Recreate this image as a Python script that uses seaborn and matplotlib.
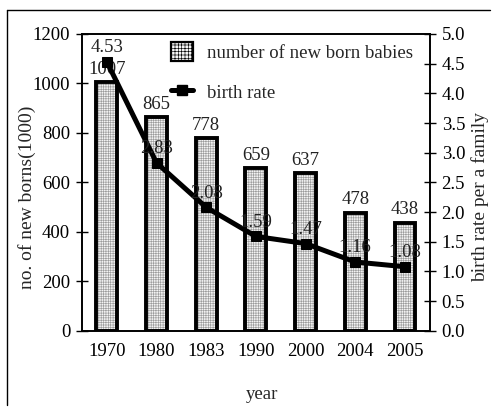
import numpy as np
import pandas as pd
import matplotlib
matplotlib.use("Agg")
import matplotlib.pyplot as plt
import seaborn as sns
from matplotlib.lines import Line2D
from matplotlib.patches import Patch

years = ["1970", "1980", "1983", "1990", "2000", "2004", "2005"]
newborns = [1007, 865, 778, 659, 637, 478, 438]
birth_rate = [4.53, 2.83, 2.08, 1.59, 1.47, 1.16, 1.08]
left_ticks = [0, 200, 400, 600, 800, 1000, 1200]
right_ticks = [0.0, 0.5, 1.0, 1.5, 2.0, 2.5, 3.0, 3.5, 4.0, 4.5, 5.0]

sns.set_theme(style="white")
plt.rcParams["font.family"] = ["Liberation Serif", "DejaVu Serif"]
plt.rcParams["hatch.linewidth"] = 0.45
plt.rcParams["axes.edgecolor"] = "black"
plt.rcParams["axes.linewidth"] = 1.2

FS = 13.5
FILL_HATCH = "+++++++"

df = pd.DataFrame({"year": years, "newborns": newborns, "rate": birth_rate})

fig = plt.figure(figsize=(4.94, 4.09), dpi=100)
ax = fig.add_axes([0.166, 0.191, 0.704, 0.726])

# fine dotted fill of the bars
sns.barplot(data=df, x="year", y="newborns", ax=ax, width=0.42,
            color="#f4f4f4", saturation=1, edgecolor="#9c9c9c", linewidth=0)
for p in ax.patches:
    p.set_hatch(FILL_HATCH)
# heavy black outline on top of the fill
sns.barplot(data=df, x="year", y="newborns", ax=ax, width=0.42,
            fill=False, edgecolor="black", linewidth=2.8)

ax.set_ylim(0, 1200)
ax.set_xlim(-0.5, len(years) - 0.5)
ax.set_yticks(left_ticks)
ax.set_yticklabels([str(t) for t in left_ticks])
ax.tick_params(axis="y", direction="inout", length=9, width=1, pad=4,
               labelsize=FS, colors="black", left=True)
ax.tick_params(axis="x", length=0, pad=9, labelsize=FS, colors="black")
for s in ax.spines.values():
    s.set_color("black")
    s.set_linewidth(1.2)

for i, v in enumerate(newborns):
    ax.annotate(str(v), (i, v), xytext=(0, 3), textcoords="offset points",
                ha="center", va="bottom", fontsize=FS, color="#222222")

ax.set_ylabel("no. of new borns(1000)", fontsize=FS + 0.5)
ax.yaxis.set_label_coords(-0.132, 0.45)
ax.set_xlabel("year", fontsize=FS)
ax.xaxis.set_label_coords(0.517, -0.185)

ax2 = ax.twinx()
pos = np.arange(len(years))
sns.lineplot(x=pos, y=birth_rate, ax=ax2, color="black", linewidth=3.6,
             marker="s", markersize=7, markeredgecolor="black", legend=False)
ax2.set_ylim(0, 5)
ax2.set_xlim(-0.5, len(years) - 0.5)
ax2.set_yticks(right_ticks)
ax2.set_yticklabels([f"{t:.1f}" for t in right_ticks])
ax2.tick_params(axis="y", direction="inout", length=9, width=1, pad=4,
                labelsize=FS, colors="black", right=True)
for s in ax2.spines.values():
    s.set_color("black")
    s.set_linewidth(1.2)
ax2.set_ylabel("birth rate per a family", fontsize=FS + 0.5)
ax2.yaxis.set_label_coords(1.118, 0.45)

for i, v in enumerate(birth_rate):
    ax2.annotate(f"{v:.2f}", (i, v), xytext=(0, 4), textcoords="offset points",
                 ha="center", va="bottom", fontsize=FS, color="#222222")

handles = [
    Patch(facecolor="#f4f4f4", edgecolor="black", hatch="+++++", linewidth=1.6),
    Line2D([], [], color="black", linewidth=3.6, marker="s", markersize=7),
]
ax2.legend(handles, ["number of new born babies", "birth rate"],
           loc="upper left", bbox_to_anchor=((171 - 82) / 348, (331 - 42) / 297),
           frameon=False, fontsize=FS, borderpad=0, borderaxespad=0,
           handlelength=1.2, handleheight=1.2, labelspacing=1.05,
           handletextpad=0.7)

# page frame lines along the top and left edge
fig.add_artist(Line2D([7 / 494, 490 / 494], [1 - 10 / 409, 1 - 10 / 409],
                      color="black", linewidth=1.0))
fig.add_artist(Line2D([7 / 494, 7 / 494], [1 - 10 / 409, 1 - 405 / 409],
                      color="black", linewidth=1.0))

fig.savefig("out.png", dpi=100)
